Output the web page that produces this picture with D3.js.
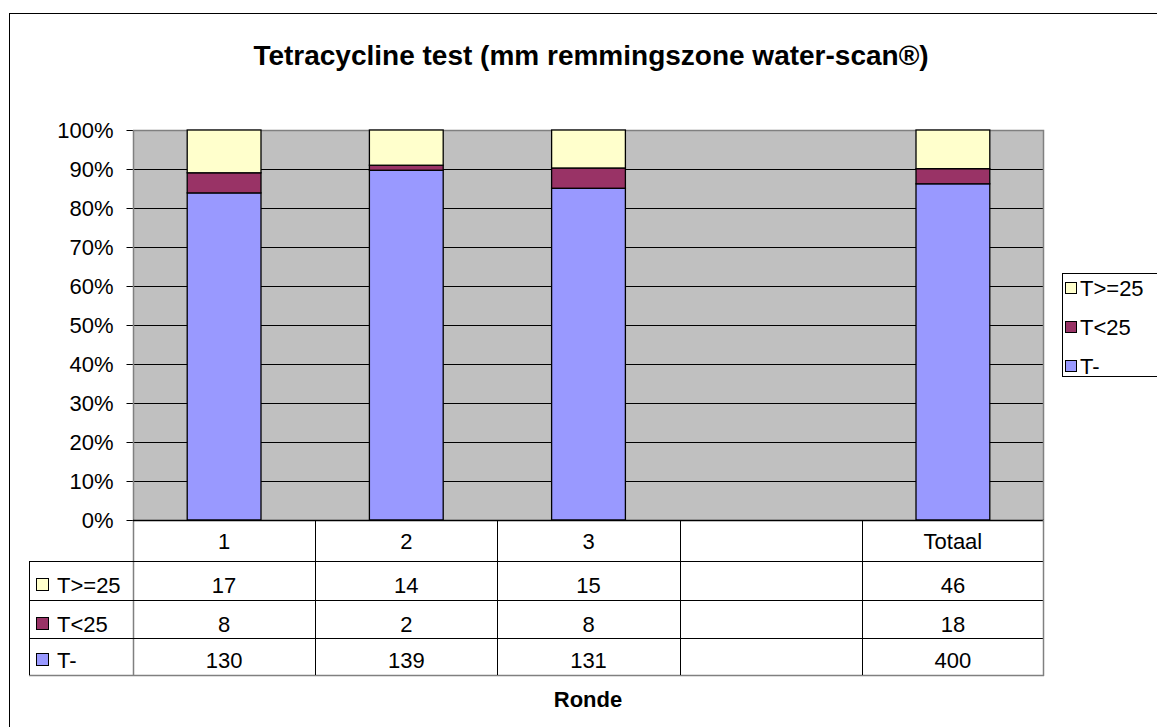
<!DOCTYPE html>
<html><head><meta charset="utf-8">
<script src="https://cdn.jsdelivr.net/npm/d3@7"></script>
<style>body{margin:0;background:#fff;}svg{display:block;font-family:Arial,"Liberation Sans",sans-serif;}</style>
</head><body><svg id="c" width="1157" height="727"></svg>
<script>
const categories = ["1","2","3","","Totaal"];
const seriesNames = ["T>=25","T<25","T-"];
const seriesColors = ["#FFFFCC","#993366","#9999FF"];
const valuesHigh = [17,14,15,null,46];
const valuesLow = [8,2,8,null,18];
const valuesNeg = [130,139,131,null,400];
const yTicks = [0,0.1,0.2,0.3,0.4,0.5,0.6,0.7,0.8,0.9,1];
const titleText = "Tetracycline test (mm remmingszone water-scan®)";
const xTitle = "Ronde";

const FS = 22;
const svg = d3.select("#c");
const pl = 133, pr = 1044, pt = 130, pb = 520;
const x = d3.scaleBand().domain(d3.range(categories.length)).range([pl, pr]).padding(0);
const y = d3.scaleLinear().domain([0,1]).range([pb, pt]);

// outer border
svg.append("rect").attr("x",9.5).attr("y",13.5).attr("width",1200).attr("height",800)
  .attr("fill","#fff").attr("stroke","#000").attr("stroke-width",1);

svg.append("text").attr("x",591).attr("y",65).attr("text-anchor","middle")
  .attr("font-weight","bold").attr("font-size",28).text(titleText);

// plot area
svg.append("rect").attr("x",pl).attr("y",pt).attr("width",pr-pl).attr("height",pb-pt).attr("fill","#C0C0C0");
svg.append("g").selectAll("line").data(yTicks.slice(1)).join("line")
  .attr("x1",pl).attr("x2",pr).attr("y1",d=>Math.round(y(d))+0.5).attr("y2",d=>Math.round(y(d))+0.5)
  .attr("stroke","#000").attr("stroke-width",1);
svg.append("path").attr("d",`M${pl},${pt+0.5}H${pr-0.5}V${pb}`).attr("fill","none").attr("stroke","#808080").attr("stroke-width",1.5);

// y axis
const yAxis = d3.axisLeft(y).tickValues(yTicks).tickFormat(d3.format(".0%")).tickSize(7).tickPadding(13);
const ya = svg.append("g").attr("transform",`translate(${pl+0.5},0)`).call(yAxis);
ya.select(".domain").remove();
ya.selectAll(".tick line").attr("stroke","#000");
ya.selectAll(".tick text").attr("font-size",FS).attr("font-family","Arial, 'Liberation Sans', sans-serif").attr("fill","#000");

// stacked bars
const valueArrays = [valuesHigh, valuesLow, valuesNeg];
const rows = categories.map((c,i)=>({i, neg:valuesNeg[i], low:valuesLow[i], high:valuesHigh[i]}))
  .filter(d=>d.neg!=null);
const stack = d3.stack().keys(["neg","low","high"]).offset(d3.stackOffsetExpand);
const stacked = stack(rows);
const keyColor = {neg:"#9999FF", low:"#993366", high:"#FFFFCC"};
const bw = x.bandwidth()*0.405;
stacked.forEach(layer=>{
  svg.append("g").selectAll("rect").data(layer).join("rect")
    .attr("x",d=>x(d.data.i)+x.bandwidth()/2-bw/2)
    .attr("width",bw)
    .attr("y",d=>y(d[1]))
    .attr("height",d=>y(d[0])-y(d[1]))
    .attr("fill",keyColor[layer.key]).attr("stroke","#000").attr("stroke-width",1.3);
});

// y axis line
svg.append("line").attr("x1",pl+0.5).attr("x2",pl+0.5).attr("y1",pt).attr("y2",675).attr("stroke","#808080").attr("stroke-width",1.5);
svg.append("line").attr("x1",pl).attr("x2",pr).attr("y1",pb+0.5).attr("y2",pb+0.5).attr("stroke","#000").attr("stroke-width",1.5);

// data table
const tl = 29;
const baselines = [593,632,668];
const tg = svg.append("g");
[561,600,638].forEach(yy=>tg.append("line").attr("x1",tl).attr("x2",pr).attr("y1",yy+0.5).attr("y2",yy+0.5).attr("stroke","#000"));
tg.append("line").attr("x1",tl).attr("x2",pr).attr("y1",675.5).attr("y2",675.5).attr("stroke","#808080").attr("stroke-width",1.5);
tg.append("line").attr("x1",tl+0.5).attr("x2",tl+0.5).attr("y1",561).attr("y2",675).attr("stroke","#000");
d3.range(1,categories.length).forEach(k=>{
  const xx = Math.round(x(k))+0.5;
  tg.append("line").attr("x1",xx).attr("x2",xx).attr("y1",520).attr("y2",675).attr("stroke","#000");
});
tg.append("line").attr("x1",pr-0.5).attr("x2",pr-0.5).attr("y1",520).attr("y2",676).attr("stroke","#808080").attr("stroke-width",1.5);
tg.selectAll("text.cat").data(categories).join("text").attr("class","cat")
  .attr("x",(d,i)=>x(i)+x.bandwidth()/2).attr("y",549).attr("text-anchor","middle")
  .attr("font-size",FS).text(d=>d);
valueArrays.forEach((arr,r)=>{
  const by = baselines[r];
  tg.append("g").selectAll("text").data(arr).join("text")
    .attr("x",(d,i)=>x(i)+x.bandwidth()/2).attr("y",by).attr("text-anchor","middle")
    .attr("font-size",FS).text(d=>d==null?"":d);
  tg.append("rect").attr("x",36.5).attr("y",by-14.5).attr("width",12).attr("height",12)
    .attr("fill",seriesColors[r]).attr("stroke","#000");
  tg.append("text").attr("x",57).attr("y",by).attr("font-size",FS).text(seriesNames[r]);
});

svg.append("text").attr("x",588).attr("y",707).attr("text-anchor","middle").attr("font-weight","bold")
  .attr("font-size",FS).text(xTitle);

// legend
const lg = svg.append("g");
lg.append("rect").attr("x",1062.5).attr("y",273.5).attr("width",120).attr("height",103).attr("fill","#fff").attr("stroke","#000");
const legCy = [288,327,366];
seriesNames.forEach((n,r)=>{
  const cy = legCy[r];
  lg.append("rect").attr("x",1065.5).attr("y",cy-5.5).attr("width",11).attr("height",11).attr("fill",seriesColors[r]).attr("stroke","#000");
  lg.append("text").attr("x",1080).attr("y",cy+8).attr("font-size",FS).text(n);
});
</script></body></html>
